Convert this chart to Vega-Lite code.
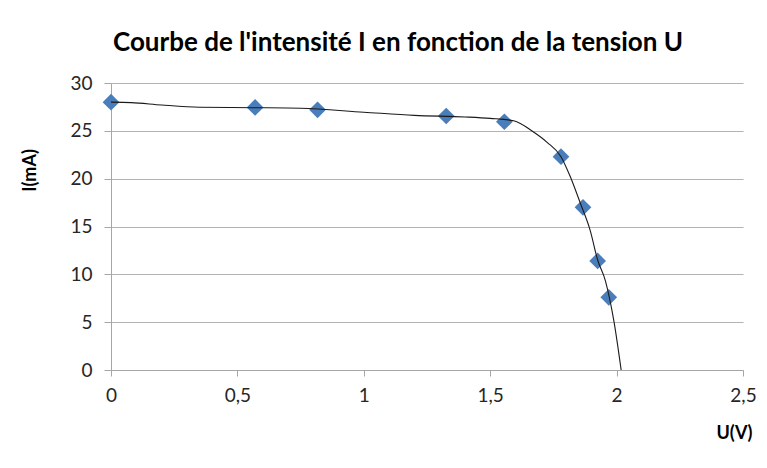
{
  "$schema": "https://vega.github.io/schema/vega-lite/v6.json",
  "width": 632,
  "height": 287,
  "autosize": {"type": "none"},
  "padding": {"left": 111, "top": 83, "right": 24, "bottom": 98},
  "background": "white",
  "config": {
    "view": {"stroke": null},
    "font": "Lato",
    "axis": {
      "labelFont": "Lato",
      "labelFontSize": 19,
      "labelColor": "#262626",
      "gridColor": "#b3b3b3",
      "gridWidth": 1,
      "domainColor": "#a6a6a6",
      "tickColor": "#a6a6a6",
      "tickSize": 7,
      "titleFont": "Lato",
      "titleFontSize": 18,
      "titleFontWeight": "bold",
      "titleColor": "#000000"
    }
  },
  "title": {
    "text": "Courbe de l'intensité I en fonction de la tension U",
    "font": "Lato",
    "fontSize": 26,
    "fontWeight": "bold",
    "color": "#000000",
    "anchor": "middle",
    "dx": -29,
    "offset": 18
  },
  "datasets": {
    "points": [
      {"U": 0, "I": 28.0},
      {"U": 0.57, "I": 27.45},
      {"U": 0.817, "I": 27.2},
      {"U": 1.326, "I": 26.55},
      {"U": 1.556, "I": 25.95},
      {"U": 1.78, "I": 22.3},
      {"U": 1.867, "I": 17.0},
      {"U": 1.925, "I": 11.4},
      {"U": 1.969, "I": 7.6}
    ],
    "curve": [
      {"U": 0, "I": 28.0},
      {"U": 0.08, "I": 27.95},
      {"U": 0.2, "I": 27.7},
      {"U": 0.35, "I": 27.47},
      {"U": 0.57, "I": 27.42},
      {"U": 0.75, "I": 27.36},
      {"U": 1.0, "I": 26.95},
      {"U": 1.2, "I": 26.62},
      {"U": 1.4, "I": 26.45},
      {"U": 1.5, "I": 26.3},
      {"U": 1.593, "I": 26.05},
      {"U": 1.67, "I": 24.9},
      {"U": 1.725, "I": 23.8},
      {"U": 1.78, "I": 22.3},
      {"U": 1.817, "I": 20.2},
      {"U": 1.857, "I": 17.4},
      {"U": 1.896, "I": 14.55},
      {"U": 1.925, "I": 11.5},
      {"U": 1.956, "I": 9.3},
      {"U": 1.99, "I": 5.0},
      {"U": 2.018, "I": 0}
    ]
  },
  "layer": [
    {
      "data": {"name": "points"},
      "mark": {"type": "point", "shape": "diamond", "filled": true, "size": 280, "color": "#4a7ebb", "opacity": 1},
      "encoding": {
        "x": {
          "field": "U",
          "type": "quantitative",
          "scale": {"domain": [0, 2.5], "nice": false},
          "axis": {
            "values": [0, 0.5, 1, 1.5, 2, 2.5],
            "grid": false,
            "tickSize": 6,
            "labelPadding": 10,
            "labelFlush": false,
            "labelExpr": "replace(format(datum.value, ''), '.', ',')",
            "title": "U(V)",
            "titleX": 641,
            "titleY": 63,
            "titleAlign": "right",
            "titleBaseline": "middle",
            "titleAnchor": null
          }
        },
        "y": {
          "field": "I",
          "type": "quantitative",
          "scale": {"domain": [0, 30], "nice": false},
          "axis": {
            "values": [0, 5, 10, 15, 20, 25, 30],
            "grid": true,
            "labelPadding": 12,
            "labelFlush": false,
            "title": "I(mA)",
            "titleAngle": -90,
            "titleX": -81,
            "titleY": 87,
            "titleAlign": "center",
            "titleBaseline": "middle",
            "titleAnchor": null
          }
        }
      }
    },
    {
      "data": {"name": "curve"},
      "mark": {"type": "line", "interpolate": "monotone", "color": "#1a1a1a", "strokeWidth": 1.1},
      "encoding": {
        "x": {"field": "U", "type": "quantitative"},
        "y": {"field": "I", "type": "quantitative"}
      }
    }
  ]
}
